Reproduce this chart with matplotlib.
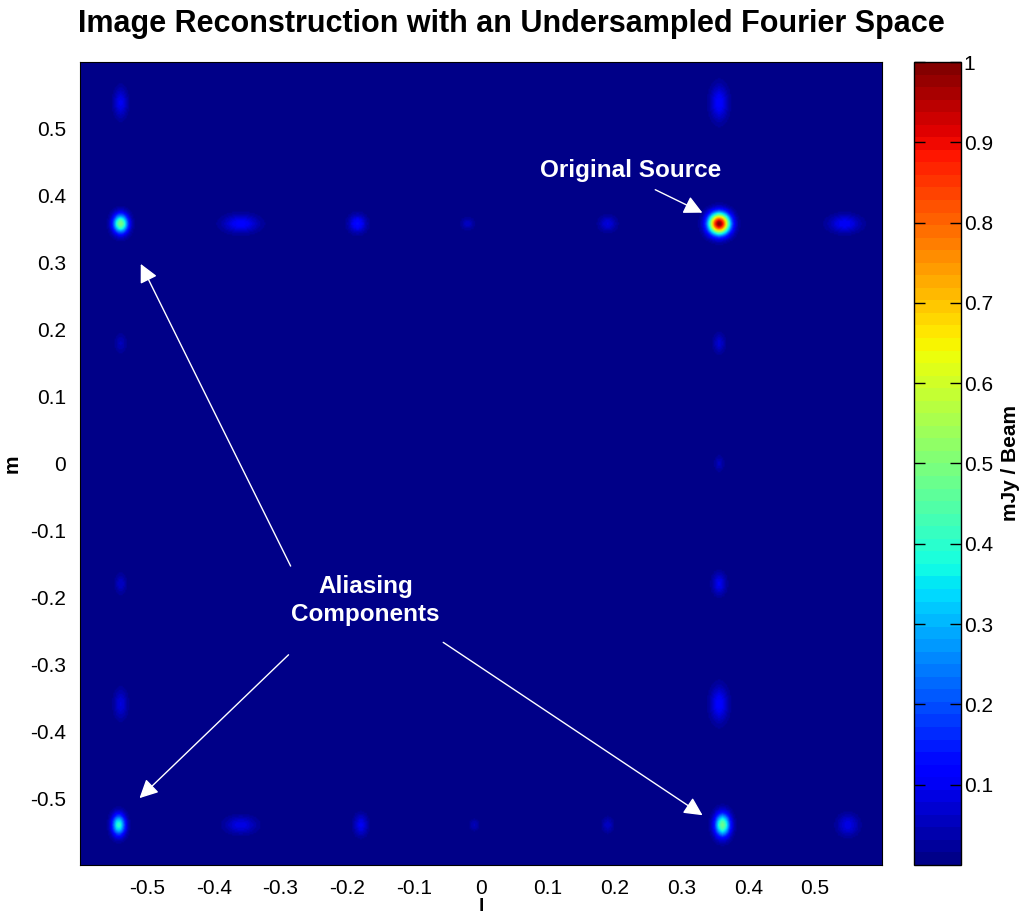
import numpy as np
import matplotlib.pyplot as plt
from matplotlib.colors import ListedColormap

# point components seen in the dirty image (l, m, peak, width in l, width in m)
comp_l = [0.357, -0.540, 0.362, -0.543,
          -0.360, -0.185, -0.020, 0.190, 0.545,
          0.357, 0.357, 0.357, 0.357, 0.357,
          -0.540, -0.540, -0.540, -0.540,
          -0.360, -0.180, -0.010, 0.190, 0.550]
comp_m = [0.359, 0.359, -0.541, -0.541,
          0.359, 0.359, 0.359, 0.359, 0.359,
          0.540, 0.180, 0.000, -0.180, -0.360,
          0.540, 0.180, -0.180, -0.360,
          -0.541, -0.541, -0.541, -0.541, -0.541]
comp_peak = [1.00, 0.50, 0.48, 0.40,
             0.12, 0.13, 0.06, 0.08, 0.11,
             0.12, 0.07, 0.05, 0.10, 0.12,
             0.10, 0.05, 0.06, 0.08,
             0.09, 0.10, 0.05, 0.06, 0.09]
comp_wl = [0.011, 0.008, 0.008, 0.007,
           0.018, 0.009, 0.007, 0.009, 0.016,
           0.009, 0.006, 0.005, 0.007, 0.009,
           0.007, 0.006, 0.006, 0.007,
           0.016, 0.007, 0.005, 0.006, 0.011]
comp_wm = [0.011, 0.010, 0.012, 0.011,
           0.009, 0.009, 0.006, 0.008, 0.009,
           0.018, 0.010, 0.008, 0.011, 0.018,
           0.015, 0.010, 0.010, 0.015,
           0.009, 0.011, 0.006, 0.008, 0.011]

cbar_ticks = [0.1, 0.2, 0.3, 0.4, 0.5, 0.6, 0.7, 0.8, 0.9, 1]
axis_ticks = [-0.5, -0.4, -0.3, -0.2, -0.1, 0, 0.1, 0.2, 0.3, 0.4, 0.5]

plt.rcParams['font.family'] = ['Liberation Sans', 'DejaVu Sans']

# build the image
g = np.linspace(-0.6, 0.6, 601)
L, M = np.meshgrid(g, g)
img = np.zeros_like(L)
for l0, m0, a, wl, wm in zip(comp_l, comp_m, comp_peak, comp_wl, comp_wm):
    img += a * np.exp(-((L - l0) ** 2 / (2 * wl ** 2) + (M - m0) ** 2 / (2 * wm ** 2)))

# 64 level jet like matlab
cmap = ListedColormap(plt.cm.jet((np.arange(64) + 0.5) / 64))

fig = plt.figure(figsize=(10.22, 9.16), dpi=100)
ax = fig.add_axes([0.0783, 0.0557, 0.7847, 0.8766])
cax = fig.add_axes([0.8943, 0.0557, 0.046, 0.8766])

im = ax.imshow(img, extent=(-0.6, 0.6, -0.6, 0.6), origin='lower', cmap=cmap,
               vmin=0, vmax=1, interpolation='bilinear', aspect='auto')
ax.set_xlim(-0.6, 0.6)
ax.set_ylim(-0.6, 0.6)
ax.set_xticks(axis_ticks)
ax.set_yticks(axis_ticks)
ax.set_xticklabels(['%g' % t for t in axis_ticks])
ax.set_yticklabels(['%g' % t for t in axis_ticks])
ax.tick_params(length=0, labelsize=15, pad=10)
ax.set_xlabel('l', fontsize=14, fontweight='bold', labelpad=0)
ax.set_ylabel('m', fontsize=15, fontweight='bold', labelpad=6)
fig.text(0.5, 1 - 24 / 916, 'Image Reconstruction with an Undersampled Fourier Space',
         fontsize=22, fontweight='bold', ha='center', va='center')

# annotations
ax.text(0.224, 0.438, 'Original Source', color='white', fontsize=17.5,
        fontweight='bold', ha='center', va='center')
ax.annotate('', xy=(0.335, 0.373), xytext=(0.257, 0.411),
            arrowprops=dict(arrowstyle='-|>', color='white', lw=1, mutation_scale=28))

ax.text(-0.173, -0.205, 'Aliasing\nComponents', color='white', fontsize=17.5,
        fontweight='bold', ha='center', va='center', linespacing=1.25)
arrow_tails = [(-0.283, -0.157), (-0.285, -0.283), (-0.060, -0.265)]
arrow_tips = [(-0.511, 0.302), (-0.514, -0.503), (0.335, -0.528)]
for tail, tip in zip(arrow_tails, arrow_tips):
    ax.annotate('', xy=tip, xytext=tail,
                arrowprops=dict(arrowstyle='-|>', color='white', lw=1, mutation_scale=28))

# colorbar
cb = fig.colorbar(im, cax=cax, ticks=cbar_ticks)
cb.ax.set_yticklabels(['%g' % t for t in cbar_ticks])
cb.ax.tick_params(direction='in', left=True, right=True, length=8, width=1,
                  labelsize=15, pad=2)
cb.outline.set_linewidth(1)
cb.set_label('mJy / Beam', fontsize=15, fontweight='bold', labelpad=6)

fig.savefig('out.png', dpi=100)
